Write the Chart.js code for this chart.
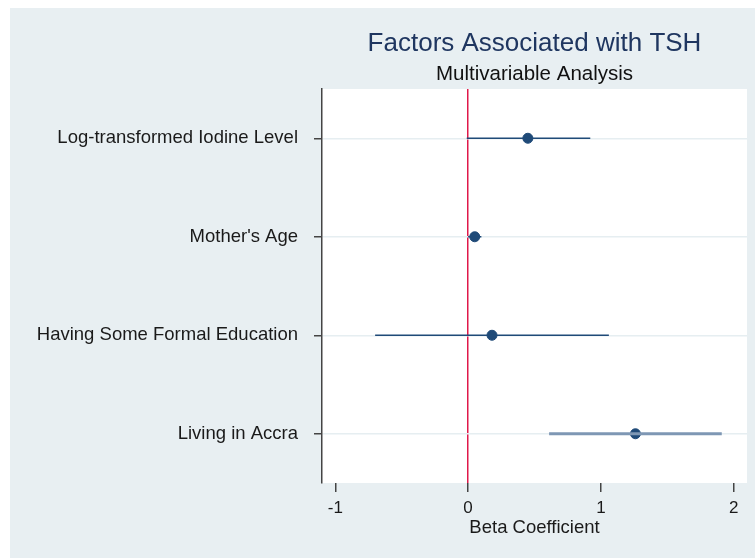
<!DOCTYPE html>
<html>
<head>
<meta charset="utf-8">
<script src="https://cdn.jsdelivr.net/npm/chart.js@4"></script>
<style>
  body { margin: 0; background: #ffffff; }
  #wrap { position: absolute; left: 10px; top: 8px; width: 745px; height: 550px; background: #e8eff2; }
</style>
</head>
<body>
<div id="wrap"><canvas id="c" width="745" height="550"></canvas></div>
<script>
// forest plot values
const categories = [
  "Log-transformed Iodine Level",
  "Mother's Age",
  "Having Some Formal Education",
  "Living in Accra",
];
const betas = [0.45, 0.05, 0.18, 1.26];
const lower = [-0.01, 0.0, -0.7, 0.61];
const upper = [0.92, 0.1, 1.06, 1.91];
const ciColors = ["#1f4a78", "#1f4a78", "#1f4a78", "#7e97b4"];
const ciWidths = [1.5, 1.5, 1.5, 3];
const xTicks = [-1, 0, 1, 2];

const FONT = "'Liberation Sans', Arial, sans-serif";

// one line dataset per confidence interval
const datasets = categories.map((cat, i) => ({
  data: [
    { x: lower[i], y: cat },
    { x: upper[i], y: cat },
  ],
  showLine: true,
  borderColor: ciColors[i],
  borderWidth: ciWidths[i],
  pointRadius: 0,
}));
datasets.push({
  data: categories.map((cat, i) => ({ x: betas[i], y: cat })),
  backgroundColor: "#1f4a78",
  borderColor: "#1f4a78",
  pointRadius: 5,
});

// white plot region + titles centred over it
const plotBg = {
  id: "plotBg",
  beforeDraw(chart) {
    const { ctx, chartArea: a } = chart;
    ctx.save();
    ctx.fillStyle = "#ffffff";
    ctx.fillRect(a.left, a.top, a.right - a.left, a.bottom - a.top);
    ctx.restore();
  },
  afterDraw(chart) {
    const { ctx, chartArea: a } = chart;
    const cx = (a.left + a.right) / 2;
    ctx.save();
    ctx.textAlign = "center";
    ctx.textBaseline = "middle";
    ctx.fillStyle = "#1f3660";
    ctx.font = "26px " + FONT;
    ctx.fillText("Factors Associated with TSH", cx, 36);
    ctx.fillStyle = "#111111";
    ctx.font = "20.5px " + FONT;
    ctx.fillText("Multivariable Analysis", cx, 66);
    ctx.restore();
  },
};

new Chart(document.getElementById("c"), {
  type: "scatter",
  data: { datasets },
  plugins: [plotBg],
  options: {
    responsive: false,
    animation: false,
    layout: { padding: { top: 81, right: 8, left: 0, bottom: 19 } },
    plugins: { legend: { display: false }, tooltip: { enabled: false } },
    scales: {
      x: {
        type: "linear",
        min: -1.1,
        max: 2.1,
        afterBuildTicks: (scale) => {
          scale.ticks = xTicks.map((v) => ({ value: v }));
        },
        afterFit: (scale) => {
          scale.height = 56;
        },
        border: { display: false },
        grid: {
          drawOnChartArea: true,
          color: (c) => (c.tick && c.tick.value === 0 ? "#e0194a" : "rgba(0,0,0,0)"),
          lineWidth: 1.5,
          drawTicks: true,
          tickLength: 9,
          tickColor: "#444444",
          tickWidth: 1.5,
        },
        ticks: {
          color: "#1a1a1a",
          font: { family: FONT, size: 17 },
          padding: 6,
        },
        title: {
          display: true,
          text: "Beta Coefficient",
          color: "#1a1a1a",
          font: { family: FONT, size: 18.5 },
          padding: { top: 0, bottom: 0 },
        },
      },
      y: {
        type: "category",
        labels: categories,
        offset: true,
        afterFit: (scale) => {
          scale.width = 312;
        },
        border: { display: true, color: "#444444", width: 1.5 },
        grid: {
          offset: false,
          color: "#e6eef1",
          lineWidth: 1.5,
          drawTicks: true,
          tickLength: 8,
          tickColor: "#444444",
          tickWidth: 1.5,
        },
        ticks: {
          color: "#1a1a1a",
          font: { family: FONT, size: 18.5 },
          padding: 16,
        },
      },
    },
  },
});
</script>
</body>
</html>
